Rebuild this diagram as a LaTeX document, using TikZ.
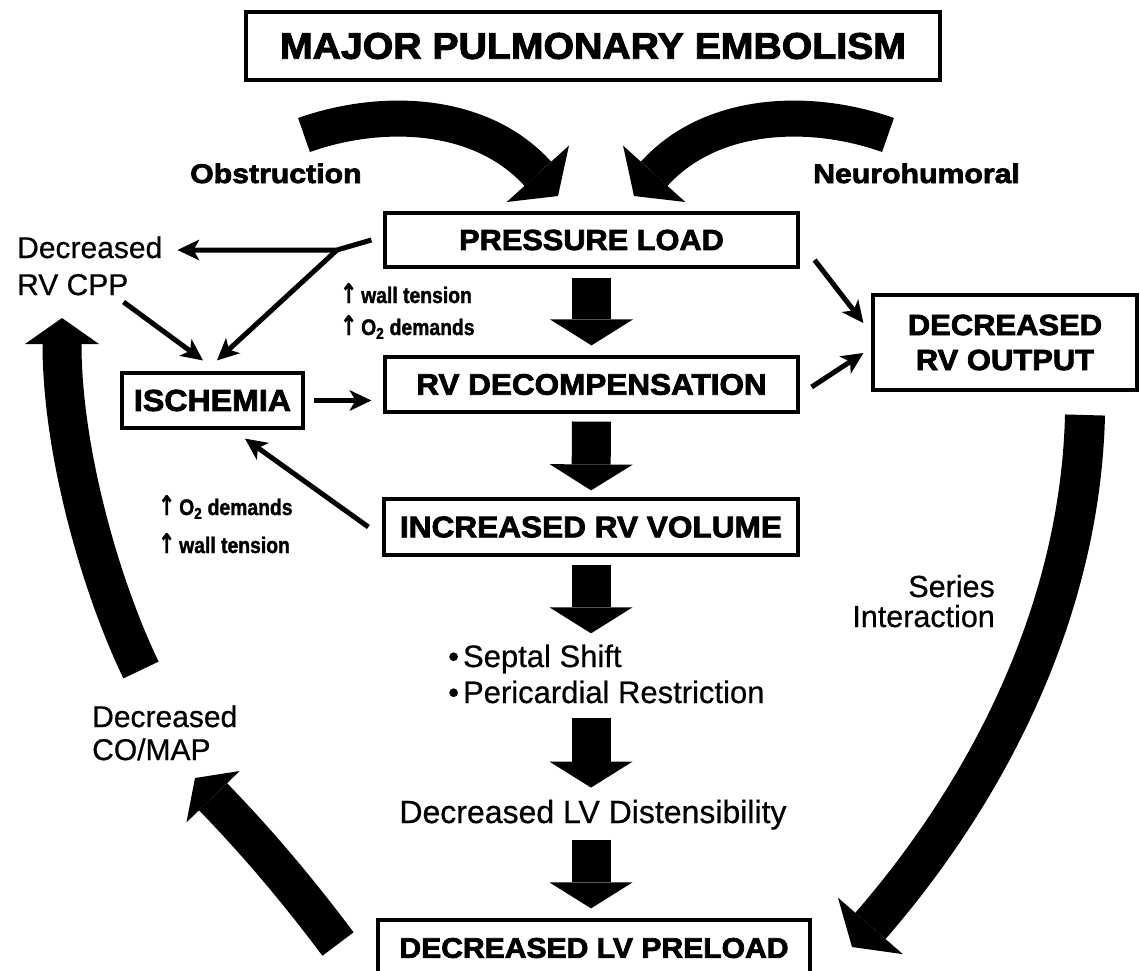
\documentclass[tikz,border=0pt]{standalone}
\usepackage{fontspec}
\usetikzlibrary{arrows.meta}
\setmainfont{Liberation Sans}[FakeBold=0.6]
\newfontfamily\hv{Liberation Sans}[FakeStretch=1.06, BoldFeatures={FakeBold=2.6}]
\newfontfamily\hvw{Liberation Sans}[FakeStretch=1.12, BoldFeatures={FakeBold=2.6}]
\newfontfamily\hvn{Liberation Sans}[FakeStretch=0.86, BoldFeatures={FakeBold=1.5}]
\newfontfamily\arrfont{DejaVu Sans}[FakeStretch=0.75, BoldFeatures={FakeBold=1}]
\begin{document}
\begin{tikzpicture}[x=1pt,y=-1pt,
  box/.style={draw, line width=3.2pt, inner sep=0pt, align=center},
  hfont/.style={font={\hv\bfseries\fontsize{#1}{35}\selectfont}},
  lab/.style={inner sep=0pt, font={\fontsize{#1}{36}\selectfont}},
  hlab/.style={inner sep=0pt, font={\hvw\bfseries\fontsize{27}{32}\selectfont}},
  smalltxt/.style={inner sep=0pt, font={\hvn\bfseries\fontsize{22.5}{26}\selectfont}},
  tarrow/.style={line width=5pt, -{Stealth[length=22pt,width=21pt,inset=6pt,line width=0pt]}},
  blk/.style={line width=39pt, -{Triangle[length=26pt,width=83pt,line width=0pt]}},
  crv/.style={line width=36pt, -{Triangle[length=30pt,width=84pt,line width=0pt]}},
  bigc/.style={line width=39pt, -{Triangle[length=26pt,width=74pt,line width=0pt]}},
  bigr/.style={line width=40pt, -{Triangle[length=28pt,width=86pt,line width=0pt]}}
]
\useasboundingbox (0,0) rectangle (1140,970);
\fill[white] (0,0) rectangle (1140,970);

% boxes
\node[box, line width=3.6pt, hfont=37, minimum width=694pt, minimum height=68pt] (title) at (593,46) {MAJOR PULMONARY EMBOLISM};
\node[box, hfont=29, minimum width=413pt, minimum height=54pt] (pl) at (591.5,240) {PRESSURE LOAD};
\node[box, hfont=29.7, minimum width=413pt, minimum height=55pt] (rvd) at (591.5,384.5) {RV DECOMPENSATION};
\node[box, hfont=29.8, minimum width=414pt, minimum height=56pt] (irv) at (591,527) {INCREASED RV VOLUME};
\node[box, hfont=30.3, minimum width=181pt, minimum height=55pt] (isch) at (212.5,400.5) {ISCHEMIA};
\node[box, hfont=29.2, minimum width=264pt, minimum height=95pt] (drvo) at (1005,342.5) {DECREASED\\RV OUTPUT};
\node[box, hfont=28.4, minimum width=432pt, minimum height=56pt] (lvp) at (594,948) {DECREASED LV PRELOAD};

% labels
\node[hlab, anchor=base west] (obs) at (190,183) {Obstruction};
\node[hlab, anchor=base west] (neu) at (813,183) {Neurohumoral};
\node[lab=30, anchor=base west] (cpp1) at (17,258) {Decreased};
\node[lab=30, anchor=base west] (cpp2) at (17,295) {RV CPP};
\node[lab=30, anchor=base west] (co1) at (92,727) {Decreased};
\node[lab=30, anchor=base west] (co2) at (92,760) {CO/MAP};
\node[lab=30.5, anchor=base east] (ser1) at (995,597) {Series};
\node[lab=30.5, anchor=base east] (ser2) at (995,627) {Interaction};
\node[lab=31, anchor=base west] (sep) at (448,667) {•\hspace{4pt}Septal Shift};
\node[lab=31, anchor=base west] (per) at (448,703) {•\hspace{4pt}Pericardial Restriction};
\node[lab=32, anchor=base] (dist) at (593,823) {Decreased LV Distensibility};

\node[smalltxt, anchor=base west] (wt1) at (340,303) {{\arrfont\bfseries\fontsize{27}{30}\selectfont ↑}\hspace{4pt}wall tension};
\node[smalltxt, anchor=base west] (od1) at (340,335) {{\arrfont\bfseries\fontsize{27}{30}\selectfont ↑}\hspace{4pt}O\textsubscript{2} demands};
\node[smalltxt, anchor=base west] (od2) at (158,515) {{\arrfont\bfseries\fontsize{27}{30}\selectfont ↑}\hspace{4pt}O\textsubscript{2} demands};
\node[smalltxt, anchor=base west] (wt2) at (158,553) {{\arrfont\bfseries\fontsize{27}{30}\selectfont ↑}\hspace{4pt}wall tension};

% thin arrows
\coordinate (jn) at (337,250);
\draw[tarrow] ([xshift=-12pt]pl.west) -- (jn) -- ([xshift=15pt]cpp1.east |- jn);
\draw[tarrow] (jn) -- ([xshift=4.5pt,yshift=11pt]isch.north);
\draw[tarrow] ([xshift=-5pt,yshift=-7pt]cpp2.base east) -- ([xshift=-9.5pt,yshift=11pt]isch.north);
\draw[tarrow] ([xshift=9pt]isch.east) -- ([xshift=-12pt]rvd.west |- isch.east);
\draw[tarrow] ([xshift=-14pt]irv.west) -- ([xshift=32.5pt,yshift=-9pt]isch.south);
\draw[tarrow] ([xshift=15pt,yshift=-20pt]pl.east) -- ([xshift=-8pt,yshift=19.5pt]drvo.west);
\draw[tarrow] ([xshift=12pt,yshift=-2.5pt]rvd.east) -- ([xshift=-8pt,yshift=-10.5pt]drvo.west);

% block arrows down the centre
\draw[blk, shorten <=9pt, shorten >=10pt] (pl.south) -- (rvd.north);
\draw[blk, shorten <=8pt, shorten >=7pt] (rvd.south) -- (irv.north);
\draw[blk, shorten <=8pt, shorten >=11pt] (irv.south) -- (irv.south |- sep.north);
\draw[blk, shorten <=14pt, shorten >=12pt] (irv.south |- per.south) -- (irv.south |- dist.north);
\draw[blk, shorten <=10pt, shorten >=10pt] (irv.south |- dist.south) -- (irv.south |- lvp.north);

% big curved arrows
\coordinate (tlA) at (304,135); \coordinate (tlB) at (558,196);
\draw[crv] (tlA) .. controls (380,108) and (480,110) .. (tlB);
\coordinate (trA) at (888,135); \coordinate (trB) at (634,196);
\draw[crv] (trA) .. controls (812,108) and (712,110) .. (trB);
\coordinate (lA) at (141,670); \coordinate (lB) at (62,318);
\draw[bigc] (lA) .. controls (100,585) and (62,450) .. (lB);
\coordinate (llA) at (338,944); \coordinate (llB) at (195,778);
\draw[bigc] (llA) .. controls (290,880) and (250,835) .. (llB);
\coordinate (rA) at (1085,415); \coordinate (rB) at (852,947);
\draw[bigr] (rA) .. controls (1080,620) and (980,800) .. (rB);
\end{tikzpicture}
\end{document}
